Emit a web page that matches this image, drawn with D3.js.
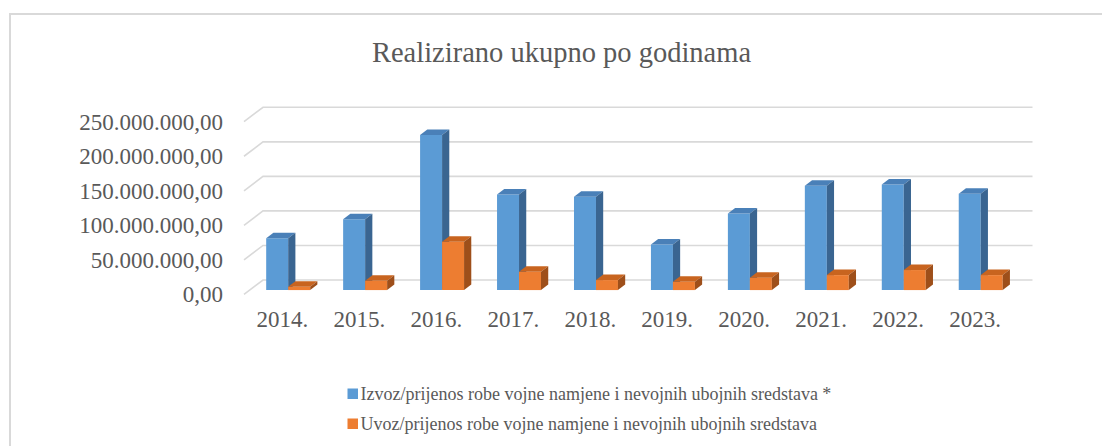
<!DOCTYPE html>
<html lang="hr">
<head>
  <meta charset="UTF-8">
  <title>Realizirano ukupno po godinama</title>
  <script src="https://cdn.jsdelivr.net/npm/d3@7"></script>
  <style>
    body { margin: 0; background: #fff; }
    text { font-family: 'Times New Roman', 'Liberation Serif', serif; fill: #595959; }
  </style>
</head>
<body>
<svg></svg>
<script>
  const width = 1102, height = 446

  // podaci (iznosi u milijunima)
  const years = ['2014.', '2015.', '2016.', '2017.', '2018.', '2019.', '2020.', '2021.', '2022.', '2023.']
  const izvoz = [75, 102.5, 224.5, 138.5, 135, 66, 111, 151, 153, 139.5].map(d => d * 1e6)
  const uvoz = [4.8, 13.5, 70, 26.5, 14.5, 12, 18, 21.7, 29, 21.7].map(d => d * 1e6)
  const yTicks = [0, 50e6, 100e6, 150e6, 200e6, 250e6]
  const seriesNames = [
    'Izvoz/prijenos robe vojne namjene i nevojnih ubojnih sredstava *',
    'Uvoz/prijenos robe vojne namjene i nevojnih ubojnih sredstava'
  ]

  const colors = [
    {front: '#5b9bd5', top: '#4a80b8', side: '#3a6591'},
    {front: '#ed7d31', top: '#c8641f', side: '#9e4f1a'}
  ]

  // dubina "3D" poda
  const depth = {dx: 19, dy: -14.4}
  const barT0 = 0.3, barT1 = 0.68

  const svg = d3.select('svg')
      .attr('width', width)
      .attr('height', height)

  // okvir grafikona
  svg.append('rect')
      .attr('x', 10).attr('y', 14)
      .attr('width', width).attr('height', height)
      .attr('fill', 'none')
      .attr('stroke', '#d9d9d9')
      .attr('stroke-width', 2)

  svg.append('text')
      .attr('x', 561.5).attr('y', 62)
      .attr('text-anchor', 'middle')
      .style('font-size', '28.5px')
      .text('Realizirano ukupno po godinama')

  const x0 = d3.scaleBand().domain(years).range([244, 1013.5])
  const x1 = d3.scaleBand().domain([0, 1]).range([0, x0.bandwidth()]).paddingOuter(0.75)
  const y = d3.scaleLinear().domain([0, 250e6]).range([294.4, 121.7])

  const pt = (x, yy, t) => [x + t * depth.dx, yy + t * depth.dy]

  // mreža
  const grid = svg.append('g')
  grid.selectAll('path')
      .data(yTicks)
      .join('path')
      .attr('fill', 'none')
      .attr('stroke', '#d9d9d9')
      .attr('stroke-width', 1.6)
      .attr('d', d => d3.line()([
        pt(x0.range()[0], y(d), 0),
        pt(x0.range()[0], y(d), 1),
        pt(x0.range()[1], y(d), 1)
      ]))

  const fmt = v => d3.format(',.2f')(v).replace(/,/g, '#').replace('.', ',').replace(/#/g, '.')

  svg.append('g')
      .selectAll('text')
      .data(yTicks)
      .join('text')
      .attr('x', 223)
      .attr('y', d => y(d))
      .attr('dy', '0.35em')
      .attr('text-anchor', 'end')
      .style('font-size', '23px')
      .text(fmt)

  svg.append('g')
      .selectAll('text')
      .data(years)
      .join('text')
      .attr('x', d => x0(d) + x0.bandwidth() / 2)
      .attr('y', 327)
      .attr('text-anchor', 'middle')
      .style('font-size', '23px')
      .text(d => d)

  // stupci
  const bars = []
  years.forEach((yr, i) => {
    [izvoz[i], uvoz[i]].forEach((v, s) => bars.push({year: yr, s, v}))
  })

  const poly = pts => 'M' + pts.map(p => p.join(',')).join('L') + 'Z'

  const barG = svg.append('g')
      .selectAll('g')
      .data(bars)
      .join('g')

  barG.each(function (d) {
    const g = d3.select(this)
    const xl = x0(d.year) + x1(d.s), xr = xl + x1.bandwidth()
    const yb = y(0), yt = y(d.v)
    // prednja strana
    g.append('path')
        .attr('fill', colors[d.s].front)
        .attr('d', poly([pt(xl, yb, barT0), pt(xr, yb, barT0), pt(xr, yt, barT0), pt(xl, yt, barT0)]))
    // gornja strana
    g.append('path')
        .attr('fill', colors[d.s].top)
        .attr('d', poly([pt(xl, yt, barT0), pt(xr, yt, barT0), pt(xr, yt, barT1), pt(xl, yt, barT1)]))
    // bočna strana
    g.append('path')
        .attr('fill', colors[d.s].side)
        .attr('d', poly([pt(xr, yb, barT0), pt(xr, yb, barT1), pt(xr, yt, barT1), pt(xr, yt, barT0)]))
  })

  // legenda
  const legend = svg.append('g')
      .selectAll('g')
      .data(seriesNames)
      .join('g')
      .attr('transform', (d, i) => `translate(347.5, ${399.5 + i * 30})`)

  legend.append('rect')
      .attr('x', 0).attr('y', -11)
      .attr('width', 10.5).attr('height', 10.5)
      .attr('fill', (d, i) => colors[i].front)

  legend.append('text')
      .attr('x', 13)
      .attr('y', 0)
      .style('font-size', '18px')
      .text(d => d)
</script>
</body>
</html>
